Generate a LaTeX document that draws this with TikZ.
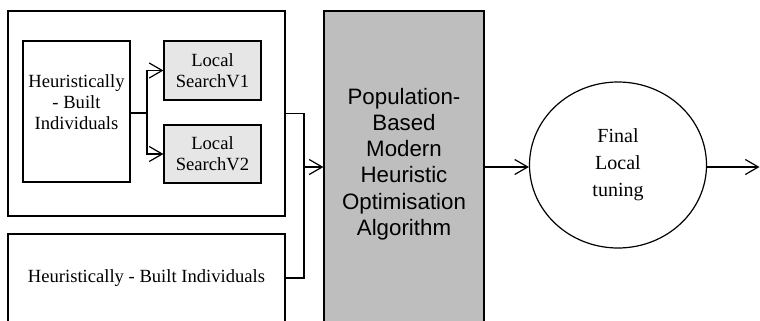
\documentclass[tikz,border=0pt]{standalone}
\usepackage{fontspec}
\setmainfont{Liberation Serif}
\newfontfamily\popfont{Liberation Sans}
\usetikzlibrary{arrows.meta,positioning,shapes.geometric}
\definecolor{lsgray}{RGB}{230,230,230}
\definecolor{popgray}{RGB}{190,190,190}

\begin{document}
\begin{tikzpicture}[x=1pt, y=-1pt, line width=1.2pt,
  box/.style={draw, rectangle, inner sep=0pt},
  serif/.style={font=\fontsize{18.6}{21}\selectfont, align=center},
  flow/.style={-{Straight Barb[length=13pt,width=15pt,line width=1.2pt]}}]
\clip (0,0) rectangle (760,321);
% left group
\node[box, minimum width=277, minimum height=205] (outer) at (146.5,113.5) {};
\node[box, minimum width=107, minimum height=141,
  label={[serif, yshift=9pt]center:Heuristically\\- Built\\Individuals}] (hbi) at (76.5,111.5) {};
\node[box, serif, fill=lsgray, minimum width=97, minimum height=59] (ls1) at (212.5,70.5) {Local\\SearchV1};
\node[box, serif, fill=lsgray, minimum width=97, minimum height=58] (ls2) at (212.5,154) {Local\\SearchV2};
\coordinate (split) at (147,113);
\draw (hbi.east |- split) -- (split);
\draw[flow] (split) |- (ls1.west);
\draw[flow] (split) |- (ls2.west);
% lower box
\node[box, serif, minimum width=277, minimum height=88] (hbi2) at (146.5,278) {Heuristically - Built Individuals};
% merge into population box
\coordinate (merge) at (304,167);
\draw (outer.east) -| (merge) |- (hbi2.east);
\node[box, fill=popgray, minimum width=160, minimum height=330] (pop) at (404,176)
  {};
\node[font=\popfont\fontsize{22.3}{26.2}\selectfont, align=center] (poptext) at (404,164)
  {Population-\\Based\\Modern\\Heuristic\\Optimisation\\Algorithm};
\draw[flow] (merge) -- (merge -| pop.west);
% final tuning
\node[draw, ellipse, inner sep=0pt, minimum width=177, minimum height=166,
  font=\fontsize{20}{27}\selectfont, align=center] (tune) at (618,165) {Final\\Local\\tuning};
\draw[flow] (pop.east |- merge) -- (merge -| tune.west);
\coordinate (out) at (759.5,167);
\draw[flow] (tune.east |- out) -- (out);
\end{tikzpicture}
\end{document}
